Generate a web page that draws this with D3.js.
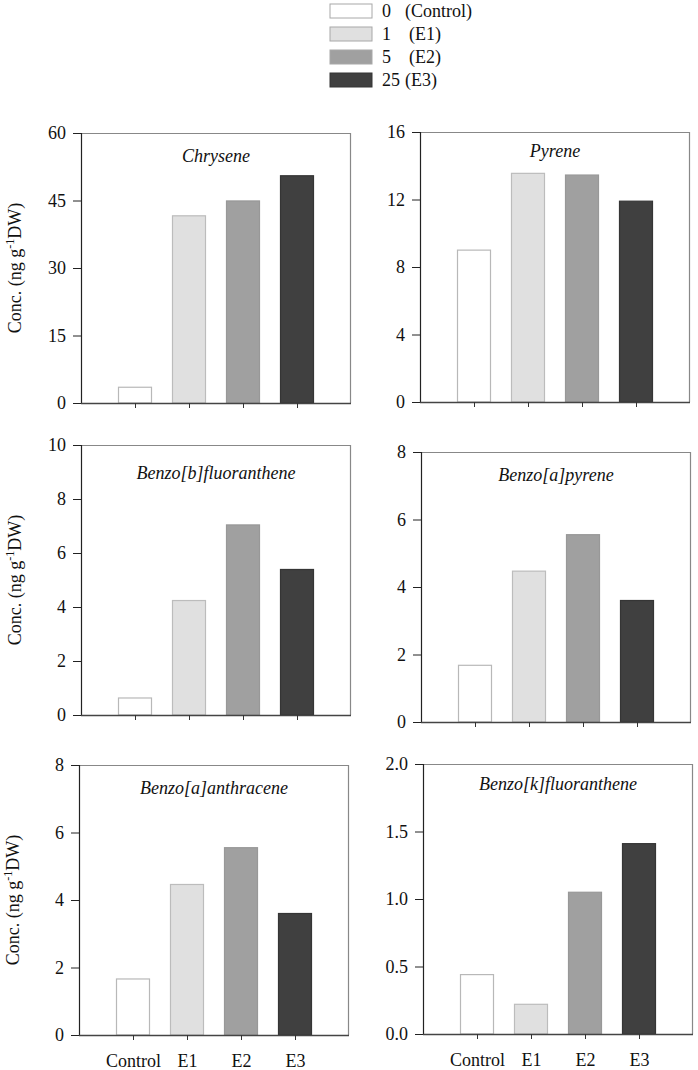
<!DOCTYPE html>
<html>
<head>
<meta charset="utf-8">
<script src="https://cdn.jsdelivr.net/npm/d3@7"></script>
<style>
  html, body { margin: 0; padding: 0; background: #fff; }
  svg { display: block; }
  text { font-family: "Liberation Serif", "Times New Roman", serif; fill: #111; }
</style>
</head>
<body>
<svg id="chart" width="698" height="1070"></svg>
<script>
// ---------------- data ----------------
const categories = ["Control", "E1", "E2", "E3"];
const legendDoses = ["0", "1", "5", "25"];
const legendLabels = ["(Control)", "(E1)", "(E2)", "(E3)"];
const compounds = ["Chrysene", "Pyrene", "Benzo[b]fluoranthene", "Benzo[a]pyrene", "Benzo[a]anthracene", "Benzo[k]fluoranthene"];
const chrysene = [3.5, 41.6, 44.9, 50.5];
const pyrene = [9.0, 13.55, 13.45, 11.9];
const benzoBFluoranthene = [0.63, 4.24, 7.04, 5.39];
const benzoAPyrene = [1.68, 4.47, 5.55, 3.60];
const benzoAAnthracene = [1.66, 4.46, 5.55, 3.60];
const benzoKFluoranthene = [0.44, 0.22, 1.05, 1.41];
const yMaxes = [60, 16, 10, 8, 8, 2];
const yTickValues = [
  [0, 15, 30, 45, 60],
  [0, 4, 8, 12, 16],
  [0, 2, 4, 6, 8, 10],
  [0, 2, 4, 6, 8],
  [0, 2, 4, 6, 8],
  [0, 0.5, 1.0, 1.5, 2.0]
];
const yTickFormats = ["d", "d", "d", "d", "d", ".1f"];
const seriesValues = [chrysene, pyrene, benzoBFluoranthene, benzoAPyrene, benzoAAnthracene, benzoKFluoranthene];

// ---------------- styles / layout ----------------
const fills = ["#ffffff", "#e0e0e0", "#a0a0a0", "#404040"];
const strokes = ["#b8b8b8", "#bcbcbc", "#989898", "#353535"];
const panelW = 270, panelH = 270;
const panels = [
  { x: 81,  y: 133, titleDy: 29 },
  { x: 420, y: 132, titleDy: 25 },
  { x: 81,  y: 445, titleDy: 34 },
  { x: 421, y: 452, titleDy: 29 },
  { x: 79,  y: 765, titleDy: 29 },
  { x: 423, y: 764, titleDy: 26 }
];

const svg = d3.select("#chart");

// x scale: categories at positions 1..4 in a 0..5 domain
const x = d3.scaleLinear().domain([0, categories.length + 1]).range([0, panelW]);
const barW = 33;

seriesValues.forEach((vals, i) => {
  const p = panels[i];
  const g = svg.append("g").attr("transform", `translate(${p.x},${p.y})`);
  const y = d3.scaleLinear().domain([0, yMaxes[i]]).range([panelH, 0]);

  // frame top/right
  g.append("line").attr("x1", 0).attr("x2", panelW).attr("y1", 0.5).attr("y2", 0.5)
    .attr("stroke", "#888").attr("stroke-width", 1.2);
  g.append("line").attr("x1", panelW - 0.5).attr("x2", panelW - 0.5).attr("y1", 0).attr("y2", panelH)
    .attr("stroke", "#888").attr("stroke-width", 1.2);

  // bars
  g.selectAll("rect.bar").data(vals).join("rect")
    .attr("class", "bar")
    .attr("x", (d, j) => x(j + 1) - barW / 2)
    .attr("width", barW)
    .attr("y", d => y(d))
    .attr("height", d => panelH - y(d))
    .attr("fill", (d, j) => fills[j])
    .attr("stroke", (d, j) => strokes[j])
    .attr("stroke-width", 1.2);

  // y axis
  const yAxis = d3.axisLeft(y).tickValues(yTickValues[i])
    .tickFormat(d3.format(yTickFormats[i])).tickSize(8).tickPadding(7);
  const ya = g.append("g").call(yAxis);
  ya.select(".domain").attr("stroke", "#222").attr("stroke-width", 1.2);
  ya.selectAll(".tick line").attr("stroke", "#222");
  ya.selectAll(".tick text").attr("font-size", 18).attr("font-family", "Liberation Serif, Times New Roman, serif").attr("fill", "#111");

  // x axis
  const bottomRow = i >= 4;
  const xAxis = d3.axisBottom(x).tickValues(d3.range(1, categories.length + 1))
    .tickFormat(d => bottomRow ? categories[d - 1] : "").tickSize(5).tickPadding(14).tickSizeOuter(0);
  const xa = g.append("g").attr("transform", `translate(0,${panelH})`).call(xAxis);
  xa.select(".domain").attr("stroke", "#444").attr("stroke-width", 1.4).attr("d", `M0,0.5H${panelW}`);
  xa.selectAll(".tick line").attr("stroke", "#333");
  xa.selectAll(".tick text").attr("font-size", 18).attr("font-family", "Liberation Serif, Times New Roman, serif").attr("fill", "#111");

  // title
  g.append("text")
    .attr("x", panelW / 2)
    .attr("y", p.titleDy)
    .attr("text-anchor", "middle")
    .attr("font-size", 18)
    .attr("font-style", "italic")
    .text(compounds[i]);

  // y label for left column
  if (i % 2 === 0) {
    const t = svg.append("text")
      .attr("transform", `translate(${p.x - 60},${p.y + panelH / 2}) rotate(-90)`)
      .attr("text-anchor", "middle")
      .attr("font-size", 18);
    t.append("tspan").text("Conc. (ng g");
    t.append("tspan").attr("font-size", 12).attr("dy", -7).text("-1");
    t.append("tspan").attr("dy", 7).text("DW)");
  }
});

// ---------------- legend ----------------
const legendY = [11, 34, 57, 80];
const lg = svg.append("g");
categories.forEach((c, j) => {
  lg.append("rect")
    .attr("x", 330).attr("y", legendY[j] - 7)
    .attr("width", 42).attr("height", 14)
    .attr("fill", fills[j]).attr("stroke", j === 3 ? "#353535" : "#a8a8a8").attr("stroke-width", 1);
  lg.append("text").attr("x", 382).attr("y", legendY[j]).attr("dy", "0.35em")
    .attr("font-size", 18).text(legendDoses[j]);
  lg.append("text").attr("x", j === 0 || j === 3 ? 405 : 409).attr("y", legendY[j]).attr("dy", "0.35em")
    .attr("font-size", 18).text(legendLabels[j]);
});
</script>
</body>
</html>
